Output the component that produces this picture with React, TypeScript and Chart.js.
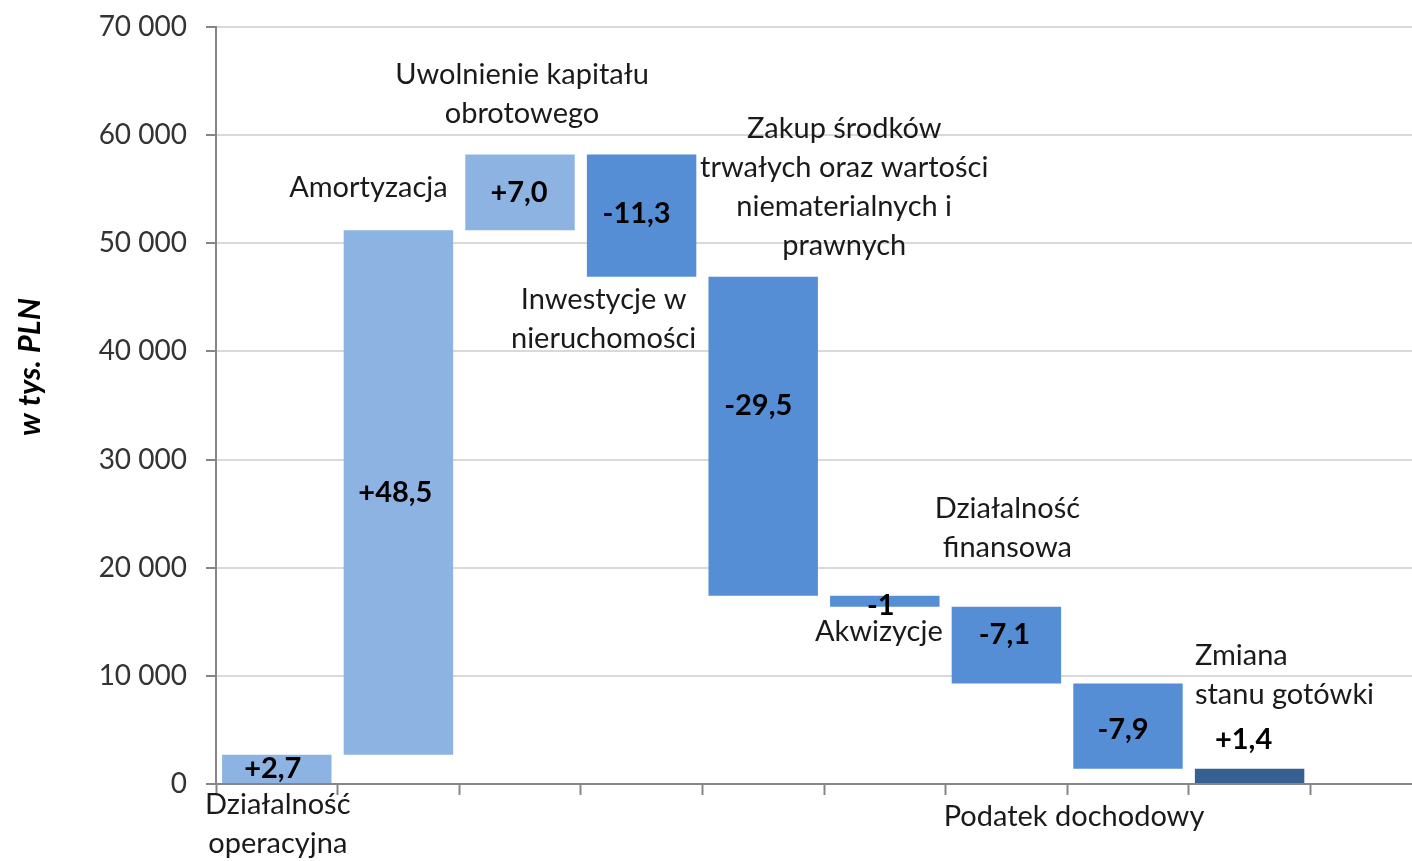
import React, { useEffect, useRef } from 'react';
import { Chart, registerables } from 'chart.js';

Chart.register(...registerables);

// ---- data (tys. PLN) ----
const categoryLines: string[][] = [
  ['Działalność', 'operacyjna'],
  ['Amortyzacja'],
  ['Uwolnienie kapitału', 'obrotowego'],
  ['Inwestycje w', 'nieruchomości'],
  ['Zakup środków', 'trwałych oraz wartości', 'niematerialnych i', 'prawnych'],
  ['Akwizycje'],
  ['Działalność', 'finansowa'],
  ['Podatek dochodowy'],
  ['Zmiana', 'stanu gotówki'],
];
const changes: number[] = [2700, 48500, 7000, -11300, -29500, -1000, -7100, -7900];
const valueLabels: string[] = ['+2,7', '+48,5', '+7,0', '-11,3', '-29,5', '-1', '-7,1', '-7,9', '+1,4'];
const yTicks: number[] = [0, 10000, 20000, 30000, 40000, 50000, 60000, 70000];
const yTitle = 'w tys. PLN';

// ---- annotation placement (px offset from bar centre, y in axis units) ----
const categoryLabelAnchors = [
  { dx: 1, y: -1940, align: 'center' },
  { dx: -30, y: 55110, align: 'center' },
  { dx: 2, y: 65560, align: 'center' },
  { dx: -38, y: 44760, align: 'center' },
  { dx: 81, y: 60570, align: 'center' },
  { dx: -6, y: 14060, align: 'center' },
  { dx: 1, y: 25430, align: 'center' },
  { dx: -54, y: -3050, align: 'center' },
  { dx: -54, y: 11840, align: 'left' },
];
const valueLabelOffsets = [
  [-4, 0], [-3, 0], [-1, 0], [-5, -2], [-5, -31], [-4, 4], [-2, -10], [-5, 3], [-6, -36],
];

const COLOR_INC = '#8DB3E2';
const COLOR_DEC = '#558ED5';
const COLOR_TOTAL = '#376092';
const FONT = 'Lato';

function buildBars() {
  const bars: ([number, number] | null)[] = [];
  const colors: string[] = [];
  let cum = 0;
  changes.forEach((c) => {
    const start = cum;
    cum += c;
    bars.push([start, cum]);
    colors.push(c >= 0 ? COLOR_INC : COLOR_DEC);
  });
  bars.push([0, cum]);
  colors.push(COLOR_TOTAL);
  bars.push(null);
  colors.push(COLOR_TOTAL);
  return { bars, colors };
}

const fmt = (v: number) => String(v).replace(/\B(?=(\d{3})+(?!\d))/g, ' ');

const labelPlugin = {
  id: 'wfLabels',
  afterDatasetsDraw(chart: any) {
    const ctx = chart.ctx;
    const meta = chart.getDatasetMeta(0);
    const yScale = chart.scales.y;
    ctx.save();
    ctx.textBaseline = 'middle';
    // value labels
    ctx.font = `bold 29px ${FONT}`;
    ctx.fillStyle = '#000000';
    ctx.textAlign = 'center';
    valueLabels.forEach((t, i) => {
      const el = meta.data[i];
      if (!el) return;
      const top = Math.min(el.y, el.base);
      const bot = Math.max(el.y, el.base);
      const [dx, dy] = valueLabelOffsets[i];
      ctx.fillText(t, el.x + dx, (top + bot) / 2 + dy);
    });
    // category labels
    ctx.font = `29px ${FONT}`;
    ctx.fillStyle = '#1a1a1a';
    categoryLines.forEach((lines, i) => {
      const el = meta.data[i];
      if (!el) return;
      const a = categoryLabelAnchors[i];
      const y0 = yScale.getPixelForValue(a.y);
      let x = el.x + a.dx;
      if (a.align === 'left') {
        x = el.x - el.width / 2;
        ctx.textAlign = 'left';
      } else {
        ctx.textAlign = 'center';
      }
      lines.forEach((ln, k) => ctx.fillText(ln, x, y0 + k * 39));
    });
    // y axis title
    ctx.font = `italic bold 31px ${FONT}`;
    ctx.fillStyle = '#000000';
    ctx.textAlign = 'center';
    ctx.translate(30, 367);
    ctx.rotate(-Math.PI / 2);
    ctx.fillText(yTitle, 0, 0);
    ctx.restore();
  },
};

export default function App() {
  const ref = useRef<HTMLCanvasElement | null>(null);
  useEffect(() => {
    if (!ref.current) return;
    const { bars, colors } = buildBars();
    const chart = new Chart(ref.current, {
      type: 'bar',
      data: {
        labels: [...categoryLines.map((l) => l.join(' ')), ''],
        datasets: [
          {
            data: bars as any,
            backgroundColor: colors,
            borderWidth: 0,
            barPercentage: 0.9,
            categoryPercentage: 1,
          },
        ],
      },
      options: {
        responsive: false,
        animation: false,
        devicePixelRatio: 1,
        layout: { padding: { top: 27, right: 8, left: 0, bottom: 0 } },
        plugins: { legend: { display: false }, tooltip: { enabled: false } },
        scales: {
          x: {
            afterFit: (s: any) => { s.height = 77; s.paddingLeft = 0; s.paddingRight = 0; },
            ticks: { display: false },
            grid: {
              offset: true,
              drawOnChartArea: false,
              drawTicks: true,
              tickLength: 11,
              tickColor: '#868686',
              tickWidth: 2,
            },
            border: { color: '#868686', width: 2 },
          },
          y: {
            min: 0,
            max: 70000,
            afterFit: (s: any) => { s.width = 216; s.paddingTop = 0; s.paddingBottom = 0; },
            afterBuildTicks: (s: any) => { s.ticks = yTicks.map((v) => ({ value: v })); },
            ticks: {
              padding: 19,
              color: '#333333',
              font: { family: FONT, size: 28 },
              callback: (v: any) => fmt(Number(v)),
            },
            grid: {
              color: '#D9D9D9',
              lineWidth: 2,
              tickLength: 10,
              tickColor: '#868686',
              tickWidth: 2,
            },
            border: { color: '#868686', width: 2 },
          },
        },
      },
      plugins: [labelPlugin],
    } as any);
    return () => chart.destroy();
  }, []);
  return (
    <div style={{ position: 'absolute', left: 0, top: 0, width: 1412, height: 861, overflow: 'hidden', background: '#fff' }}>
      <canvas ref={ref} width={1440} height={861} style={{ display: 'block' }} />
    </div>
  );
}
